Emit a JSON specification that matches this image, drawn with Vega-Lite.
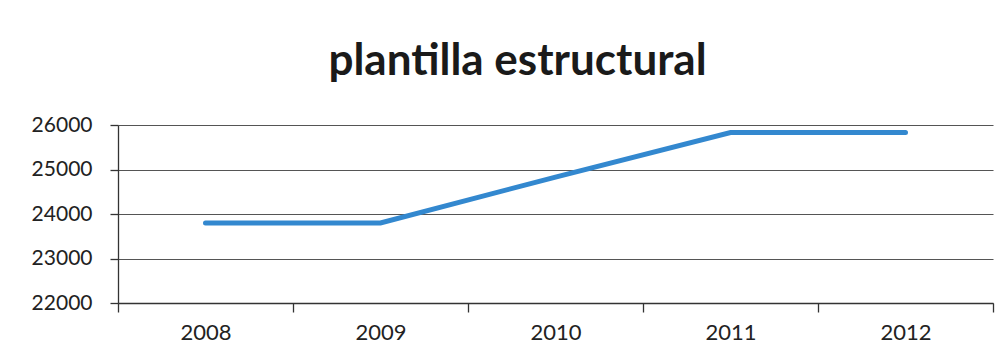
{
  "$schema": "https://vega.github.io/schema/vega-lite/v6.json",
  "width": 875,
  "height": 178,
  "autosize": {"type": "none"},
  "padding": {"left": 118, "top": 125, "right": 15, "bottom": 57},
  "background": "white",
  "title": {
    "text": "plantilla estructural",
    "font": "Lato",
    "fontSize": 44,
    "fontWeight": "bold",
    "color": "#1a1a1a",
    "anchor": "middle",
    "dx": -38,
    "offset": 30
  },
  "data": {
    "values": [
      {"year": "2008", "plantilla": 23800},
      {"year": "2009", "plantilla": 23800},
      {"year": "2010", "plantilla": 24830},
      {"year": "2011", "plantilla": 25830},
      {"year": "2012", "plantilla": 25830}
    ]
  },
  "mark": {"type": "line", "color": "#3388cf", "strokeWidth": 5, "strokeCap": "round"},
  "encoding": {
    "x": {
      "field": "year",
      "type": "ordinal",
      "bandPosition": 0.5,
      "scale": {"type": "band", "paddingInner": 0, "paddingOuter": 0},
      "axis": {
        "title": null,
        "labelAngle": 0,
        "tickBand": "extent",
        "grid": false,
        "domainColor": "#333",
        "domainWidth": 1.3,
        "tickColor": "#333",
        "tickWidth": 1.3,
        "tickSize": 9,
        "labelPadding": 10,
        "labelFont": "Lato",
        "labelFontSize": 22,
        "labelColor": "#222"
      }
    },
    "y": {
      "field": "plantilla",
      "type": "quantitative",
      "scale": {"domain": [22000, 26000], "nice": false, "zero": false},
      "axis": {
        "title": null,
        "values": [22000, 23000, 24000, 25000, 26000],
        "format": "d",
        "grid": true,
        "gridColor": "#555",
        "gridWidth": 1.2,
        "domainColor": "#333",
        "domainWidth": 1.3,
        "tickColor": "#333",
        "tickWidth": 1.3,
        "tickSize": 8,
        "labelPadding": 18,
        "labelFont": "Lato",
        "labelFontSize": 21,
        "labelColor": "#222"
      }
    }
  },
  "config": {"view": {"stroke": null}}
}
